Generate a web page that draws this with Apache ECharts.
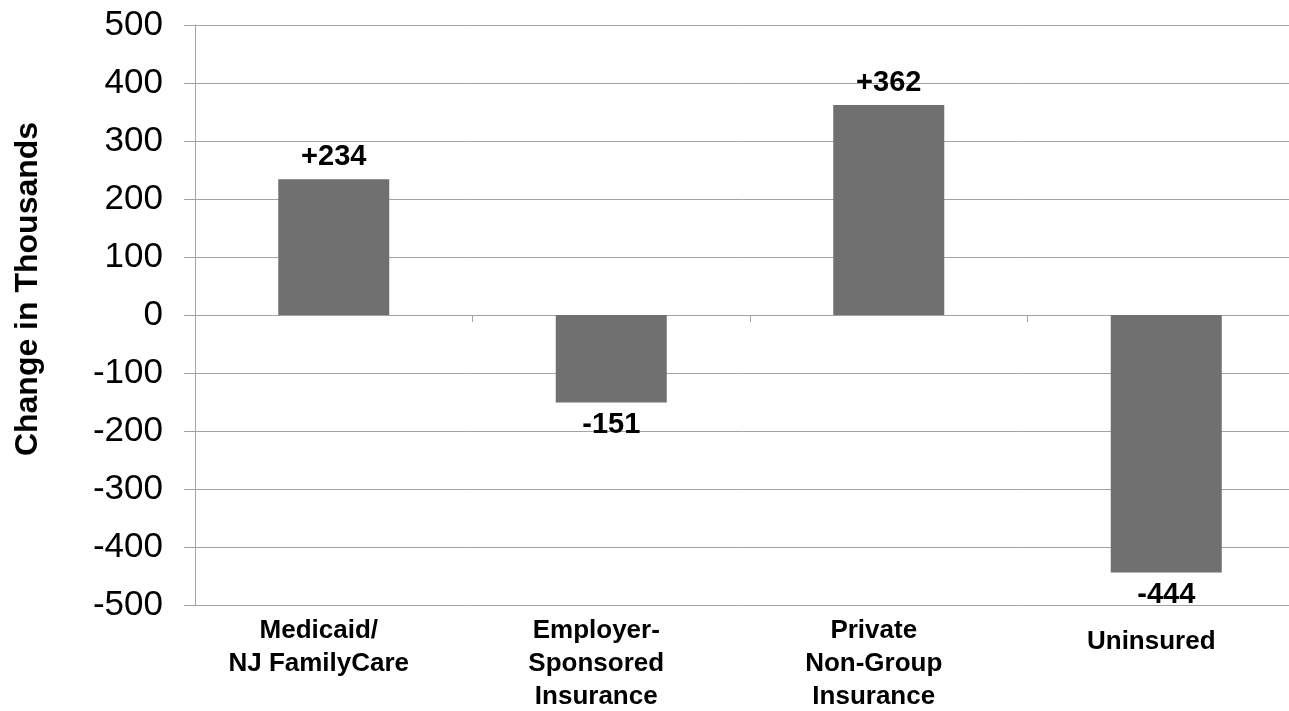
<!DOCTYPE html>
<html>
<head>
<meta charset="utf-8">
<script src="https://cdn.jsdelivr.net/npm/echarts@6/dist/echarts.min.js"></script>
<style>
  html, body { margin: 0; padding: 0; background: #fff; }
  #chart { width: 1289px; height: 711px; }
</style>
</head>
<body>
<div id="chart"></div>
<script>
var categories = ['Medicaid/\nNJ FamilyCare', 'Employer-\nSponsored\nInsurance', 'Private\nNon-Group\nInsurance', 'Uninsured'];
var changes = [234, -151, 362, -444];
var yTitle = 'Change in Thousands';

var font = '"Liberation Sans", Arial, sans-serif';
var gridColor = '#a3a3a3';

var chartDom = document.getElementById('chart');
var chart = echarts.init(chartDom);

// positive bars get the label on top, negative ones below
var barData = changes.map(function (v) {
  return {
    value: v,
    label: { position: v >= 0 ? 'top' : 'bottom' }
  };
});

var labelStyle = {
  color: '#000',
  fontFamily: font,
  fontWeight: 'bold',
  fontSize: 26,
  lineHeight: 33
};

var option = {
  animation: false,
  backgroundColor: '#fff',
  grid: {
    left: 195,
    top: 25,
    width: 1110,
    height: 580,
    containLabel: false,
    outerBoundsMode: 'none'
  },
  xAxis: [
    {
      type: 'category',
      data: categories,
      position: 'bottom',
      axisLine: { onZero: true, lineStyle: { color: gridColor, width: 1 } },
      axisTick: { show: true, length: 7, lineStyle: { color: gridColor } },
      axisLabel: { show: false },
      splitLine: { show: false }
    },
    {
      type: 'category',
      data: categories,
      position: 'bottom',
      axisLine: { show: false, onZero: false },
      axisTick: { show: false },
      axisLabel: {
        show: true,
        interval: 0,
        hideOverlap: false,
        margin: 9,
        padding: [0, 30, 0, 0],
        color: '#000',
        fontFamily: font,
        fontWeight: 'bold',
        fontSize: 26,
        lineHeight: 33,
        // single-line labels sit a little lower in the original
        formatter: function (v) {
          return v.indexOf('\n') < 0 ? '{one|' + v + '}' : '{multi|' + v.split('\n').join('}\n{multi|') + '}';
        },
        rich: {
          one: Object.assign({ padding: [22, 0, 0, 0] }, labelStyle),
          multi: labelStyle
        }
      }
    }
  ],
  yAxis: {
    type: 'value',
    min: -500,
    max: 500,
    interval: 100,
    axisLine: { show: true, lineStyle: { color: gridColor, width: 1 } },
    axisTick: { show: true, length: 11, lineStyle: { color: gridColor } },
    axisLabel: {
      margin: 32,
      color: '#000',
      fontFamily: font,
      fontSize: 35
    },
    splitLine: { show: true, lineStyle: { color: gridColor, width: 1 } }
  },
  graphic: [
    {
      type: 'text',
      x: 28,
      y: 289,
      rotation: Math.PI / 2,
      style: {
        text: yTitle,
        fill: '#000',
        font: 'bold 32px ' + font,
        align: 'center',
        verticalAlign: 'middle'
      }
    }
  ],
  series: [
    {
      type: 'bar',
      xAxisIndex: 0,
      barWidth: '40%',
      itemStyle: { color: '#707070' },
      label: {
        show: true,
        distance: 8,
        color: '#000',
        fontFamily: font,
        fontWeight: 'bold',
        fontSize: 29,
        formatter: function (p) {
          return (p.value > 0 ? '+' : '') + p.value;
        }
      },
      data: barData
    }
  ]
};

chart.setOption(option);
</script>
</body>
</html>
